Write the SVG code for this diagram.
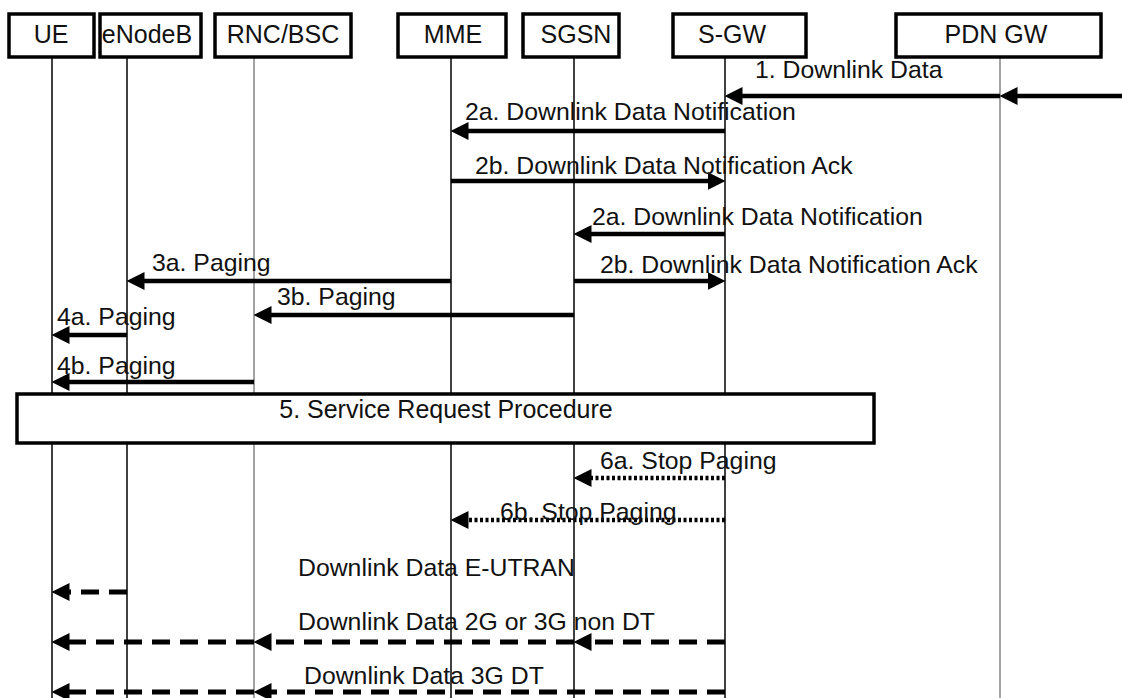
<svg xmlns="http://www.w3.org/2000/svg" width="1122" height="698" viewBox="0 0 1122 698">
<style>
.box{fill:#fff;stroke:#000;stroke-width:3.5}
.hdr{font-family:"Liberation Sans",Arial,sans-serif;font-size:25px;fill:#111;text-anchor:middle}
.lbl{font-family:"Liberation Sans",Arial,sans-serif;font-size:24.8px;fill:#111}
.life{stroke:#111;stroke-width:1.6}
.lifeg{stroke:#999;stroke-width:1.8}
.sol{stroke:#000;stroke-width:4.5;fill:none;marker-end:url(#ah)}
.dot{stroke:#000;stroke-width:4.5;fill:none;stroke-dasharray:3 2.5;marker-end:url(#ah)}
.dash{stroke:#000;stroke-width:5;fill:none;stroke-dasharray:18 10;marker-end:url(#ah)}
</style>
<defs>
<marker id="ah" markerUnits="userSpaceOnUse" markerWidth="18" markerHeight="18" viewBox="0 0 16 16" refX="4" refY="8" orient="auto">
<path d="M0,0 L16,8 L0,16 z" fill="#000"/>
</marker>
</defs>
<rect width="1122" height="698" fill="#fff"/>
<g id="lifelines">
<line class="life" x1="52" y1="57" x2="52" y2="698"/>
<line class="life" x1="127" y1="57" x2="127" y2="698"/>
<line class="lifeg" x1="254" y1="57" x2="254" y2="698"/>
<line class="life" x1="451" y1="57" x2="451" y2="698"/>
<line class="life" x1="574" y1="57" x2="574" y2="698"/>
<line class="life" x1="725" y1="57" x2="725" y2="698"/>
<line class="lifeg" x1="1000" y1="57" x2="1000" y2="698"/>
</g>
<g id="node-ue"><rect class="box" x="9" y="14" width="85" height="43"/><text class="hdr" x="51" y="43">UE</text></g>
<g id="node-enodeb"><rect class="box" x="100" y="14" width="101" height="43"/><text class="hdr" x="147" y="43">eNodeB</text></g>
<g id="node-rnc"><rect class="box" x="215" y="14" width="136" height="43"/><text class="hdr" x="283" y="43">RNC/BSC</text></g>
<g id="node-mme"><rect class="box" x="398" y="14" width="108" height="43"/><text class="hdr" x="453" y="43">MME</text></g>
<g id="node-sgsn"><rect class="box" x="523" y="14" width="96" height="43"/><text class="hdr" x="576" y="43">SGSN</text></g>
<g id="node-sgw"><rect class="box" x="673" y="14" width="133" height="43"/><text class="hdr" x="732" y="43">S-GW</text></g>
<g id="node-pdngw"><rect class="box" x="896" y="14" width="205" height="43"/><text class="hdr" x="996" y="43">PDN GW</text></g>
<g id="node-service"><rect class="box" x="17" y="394" width="857" height="49"/><text class="hdr" x="446" y="418">5. Service Request Procedure</text></g>
<g id="connectors">
<line class="sol" x1="1125" y1="96" x2="1013" y2="96"/>
<line class="sol" x1="1000" y1="96" x2="738" y2="96"/>
<line class="sol" x1="725" y1="131" x2="464" y2="131"/>
<line class="sol" x1="451" y1="181" x2="712" y2="181"/>
<line class="sol" x1="725" y1="234" x2="587" y2="234"/>
<line class="sol" x1="574" y1="281" x2="712" y2="281"/>
<line class="sol" x1="451" y1="281" x2="140" y2="281"/>
<line class="sol" x1="574" y1="315" x2="267" y2="315"/>
<line class="sol" x1="127" y1="335" x2="65" y2="335"/>
<line class="sol" x1="254" y1="382" x2="65" y2="382"/>
<line class="dot" x1="725" y1="478" x2="587" y2="478"/>
<line class="dot" x1="725" y1="520" x2="464" y2="520"/>
<line class="dash" x1="127" y1="592" x2="65" y2="592"/>
<line class="dash" x1="725" y1="642" x2="587" y2="642"/>
<line class="dash" x1="574" y1="642" x2="267" y2="642"/>
<line class="dash" x1="254" y1="642" x2="65" y2="642"/>
<line class="dash" x1="725" y1="692" x2="267" y2="692"/>
<line class="dash" x1="254" y1="692" x2="65" y2="692"/>
</g>
<g id="labels">
<text class="lbl" x="755" y="78">1. Downlink Data</text>
<text class="lbl" x="465" y="120">2a. Downlink Data Notification</text>
<text class="lbl" x="475" y="174">2b. Downlink Data Notification Ack</text>
<text class="lbl" x="592" y="225">2a. Downlink Data Notification</text>
<text class="lbl" x="600" y="273">2b. Downlink Data Notification Ack</text>
<text class="lbl" x="152" y="271">3a. Paging</text>
<text class="lbl" x="277" y="305">3b. Paging</text>
<text class="lbl" x="57" y="325">4a. Paging</text>
<text class="lbl" x="57" y="374">4b. Paging</text>
<text class="lbl" x="600" y="469">6a. Stop Paging</text>
<text class="lbl" x="500" y="520">6b. Stop Paging</text>
<text class="lbl" x="298" y="576">Downlink Data E-UTRAN</text>
<text class="lbl" x="298" y="630">Downlink Data 2G or 3G  non DT</text>
<text class="lbl" x="304" y="684">Downlink Data 3G DT</text>
</g>
</svg>
